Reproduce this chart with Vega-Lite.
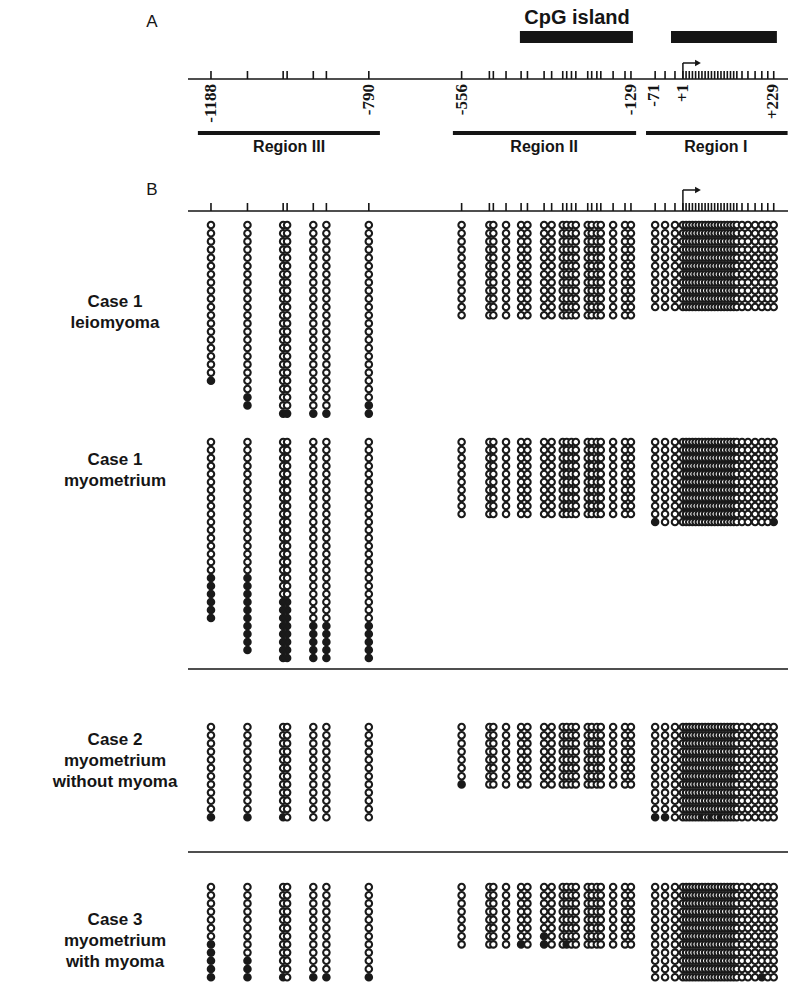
{
"$schema":"https://vega.github.io/schema/vega-lite/v6.json",
"padding":0,
"bounds":"flush",
"spacing":0,
"background":"white",
"config":{"view":{"stroke":null},"axis":{"disable":true},"concat":{"spacing":0}},
"resolve":{"scale":{"x":"independent","y":"independent","fill":"independent"}},
"datasets":{
"cols":[
{"c":"c1l","x":-1188,"m":[0,0,0,0,0,0,0,0,0,0,0,0,0,0,0,0,0,0,0,1]},
{"c":"c1l","x":-1096,"m":[0,0,0,0,0,0,0,0,0,0,0,0,0,0,0,0,0,0,0,0,0,1,1]},
{"c":"c1l","x":-1006,"m":[0,0,0,0,0,0,0,0,0,0,0,0,0,0,0,0,0,0,0,0,0,0,0,1]},
{"c":"c1l","x":-996,"m":[0,0,0,0,0,0,0,0,0,0,0,0,0,0,0,0,0,0,0,0,0,0,0,1]},
{"c":"c1l","x":-930,"m":[0,0,0,0,0,0,0,0,0,0,0,0,0,0,0,0,0,0,0,0,0,0,0,1]},
{"c":"c1l","x":-897,"m":[0,0,0,0,0,0,0,0,0,0,0,0,0,0,0,0,0,0,0,0,0,0,0,1]},
{"c":"c1l","x":-790,"m":[0,0,0,0,0,0,0,0,0,0,0,0,0,0,0,0,0,0,0,0,0,0,1,1]},
{"c":"c1l","x":-556,"m":[0,0,0,0,0,0,0,0,0,0,0,0]},
{"c":"c1l","x":-486,"m":[0,0,0,0,0,0,0,0,0,0,0,0]},
{"c":"c1l","x":-476,"m":[0,0,0,0,0,0,0,0,0,0,0,0]},
{"c":"c1l","x":-444,"m":[0,0,0,0,0,0,0,0,0,0,0,0]},
{"c":"c1l","x":-406,"m":[0,0,0,0,0,0,0,0,0,0,0,0]},
{"c":"c1l","x":-390,"m":[0,0,0,0,0,0,0,0,0,0,0,0]},
{"c":"c1l","x":-348,"m":[0,0,0,0,0,0,0,0,0,0,0,0]},
{"c":"c1l","x":-329,"m":[0,0,0,0,0,0,0,0,0,0,0,0]},
{"c":"c1l","x":-301,"m":[0,0,0,0,0,0,0,0,0,0,0,0]},
{"c":"c1l","x":-291,"m":[0,0,0,0,0,0,0,0,0,0,0,0]},
{"c":"c1l","x":-279,"m":[0,0,0,0,0,0,0,0,0,0,0,0]},
{"c":"c1l","x":-268,"m":[0,0,0,0,0,0,0,0,0,0,0,0]},
{"c":"c1l","x":-238,"m":[0,0,0,0,0,0,0,0,0,0,0,0]},
{"c":"c1l","x":-228,"m":[0,0,0,0,0,0,0,0,0,0,0,0]},
{"c":"c1l","x":-215,"m":[0,0,0,0,0,0,0,0,0,0,0,0]},
{"c":"c1l","x":-205,"m":[0,0,0,0,0,0,0,0,0,0,0,0]},
{"c":"c1l","x":-174,"m":[0,0,0,0,0,0,0,0,0,0,0,0]},
{"c":"c1l","x":-144,"m":[0,0,0,0,0,0,0,0,0,0,0,0]},
{"c":"c1l","x":-129,"m":[0,0,0,0,0,0,0,0,0,0,0,0]},
{"c":"c1l","x":-68,"m":[0,0,0,0,0,0,0,0,0,0,0]},
{"c":"c1l","x":-43,"m":[0,0,0,0,0,0,0,0,0,0,0]},
{"c":"c1l","x":-18,"m":[0,0,0,0,0,0,0,0,0,0,0]},
{"c":"c1l","x":2,"m":[0,0,0,0,0,0,0,0,0,0,0]},
{"c":"c1l","x":10,"m":[0,0,0,0,0,0,0,0,0,0,0]},
{"c":"c1l","x":18,"m":[0,0,0,0,0,0,0,0,0,0,0]},
{"c":"c1l","x":26,"m":[0,0,0,0,0,0,0,0,0,0,0]},
{"c":"c1l","x":34,"m":[0,0,0,0,0,0,0,0,0,0,0]},
{"c":"c1l","x":42,"m":[0,0,0,0,0,0,0,0,0,0,0]},
{"c":"c1l","x":50,"m":[0,0,0,0,0,0,0,0,0,0,0]},
{"c":"c1l","x":58,"m":[0,0,0,0,0,0,0,0,0,0,0]},
{"c":"c1l","x":66,"m":[0,0,0,0,0,0,0,0,0,0,0]},
{"c":"c1l","x":74,"m":[0,0,0,0,0,0,0,0,0,0,0]},
{"c":"c1l","x":82,"m":[0,0,0,0,0,0,0,0,0,0,0]},
{"c":"c1l","x":90,"m":[0,0,0,0,0,0,0,0,0,0,0]},
{"c":"c1l","x":98,"m":[0,0,0,0,0,0,0,0,0,0,0]},
{"c":"c1l","x":106,"m":[0,0,0,0,0,0,0,0,0,0,0]},
{"c":"c1l","x":114,"m":[0,0,0,0,0,0,0,0,0,0,0]},
{"c":"c1l","x":122,"m":[0,0,0,0,0,0,0,0,0,0,0]},
{"c":"c1l","x":130,"m":[0,0,0,0,0,0,0,0,0,0,0]},
{"c":"c1l","x":138,"m":[0,0,0,0,0,0,0,0,0,0,0]},
{"c":"c1l","x":151,"m":[0,0,0,0,0,0,0,0,0,0,0]},
{"c":"c1l","x":166,"m":[0,0,0,0,0,0,0,0,0,0,0]},
{"c":"c1l","x":184,"m":[0,0,0,0,0,0,0,0,0,0,0]},
{"c":"c1l","x":201,"m":[0,0,0,0,0,0,0,0,0,0,0]},
{"c":"c1l","x":216,"m":[0,0,0,0,0,0,0,0,0,0,0]},
{"c":"c1l","x":231,"m":[0,0,0,0,0,0,0,0,0,0,0]},

{"c":"c1m","x":-1188,"m":[0,0,0,0,0,0,0,0,0,0,0,0,0,0,0,0,0,1,1,1,1,1,1]},
{"c":"c1m","x":-1096,"m":[0,0,0,0,0,0,0,0,0,0,0,0,0,0,0,0,0,1,1,1,1,1,1,1,1,1,1]},
{"c":"c1m","x":-1006,"m":[0,0,0,0,0,0,0,0,0,0,0,0,0,0,0,0,0,0,0,0,1,1,1,1,1,1,1,1]},
{"c":"c1m","x":-996,"m":[0,0,0,0,0,0,0,0,0,0,0,0,0,0,0,0,0,0,0,0,1,1,1,1,1,1,1,1]},
{"c":"c1m","x":-930,"m":[0,0,0,0,0,0,0,0,0,0,0,0,0,0,0,0,0,0,0,0,0,0,0,1,1,1,1,1]},
{"c":"c1m","x":-897,"m":[0,0,0,0,0,0,0,0,0,0,0,0,0,0,0,0,0,0,0,0,0,0,0,1,1,1,1,1]},
{"c":"c1m","x":-790,"m":[0,0,0,0,0,0,0,0,0,0,0,0,0,0,0,0,0,0,0,0,0,0,0,1,1,1,1,1]},
{"c":"c1m","x":-556,"m":[0,0,0,0,0,0,0,0,0,0]},
{"c":"c1m","x":-486,"m":[0,0,0,0,0,0,0,0,0,0]},
{"c":"c1m","x":-476,"m":[0,0,0,0,0,0,0,0,0,0]},
{"c":"c1m","x":-444,"m":[0,0,0,0,0,0,0,0,0,0]},
{"c":"c1m","x":-406,"m":[0,0,0,0,0,0,0,0,0,0]},
{"c":"c1m","x":-390,"m":[0,0,0,0,0,0,0,0,0,0]},
{"c":"c1m","x":-348,"m":[0,0,0,0,0,0,0,0,0,0]},
{"c":"c1m","x":-329,"m":[0,0,0,0,0,0,0,0,0,0]},
{"c":"c1m","x":-301,"m":[0,0,0,0,0,0,0,0,0,0]},
{"c":"c1m","x":-291,"m":[0,0,0,0,0,0,0,0,0,0]},
{"c":"c1m","x":-279,"m":[0,0,0,0,0,0,0,0,0,0]},
{"c":"c1m","x":-268,"m":[0,0,0,0,0,0,0,0,0,0]},
{"c":"c1m","x":-238,"m":[0,0,0,0,0,0,0,0,0,0]},
{"c":"c1m","x":-228,"m":[0,0,0,0,0,0,0,0,0,0]},
{"c":"c1m","x":-215,"m":[0,0,0,0,0,0,0,0,0,0]},
{"c":"c1m","x":-205,"m":[0,0,0,0,0,0,0,0,0,0]},
{"c":"c1m","x":-174,"m":[0,0,0,0,0,0,0,0,0,0]},
{"c":"c1m","x":-144,"m":[0,0,0,0,0,0,0,0,0,0]},
{"c":"c1m","x":-129,"m":[0,0,0,0,0,0,0,0,0,0]},
{"c":"c1m","x":-68,"m":[0,0,0,0,0,0,0,0,0,0,1]},
{"c":"c1m","x":-43,"m":[0,0,0,0,0,0,0,0,0,0,0]},
{"c":"c1m","x":-18,"m":[0,0,0,0,0,0,0,0,0,0,0]},
{"c":"c1m","x":2,"m":[0,0,0,0,0,0,0,0,0,0,0]},
{"c":"c1m","x":10,"m":[0,0,0,0,0,0,0,0,0,0,0]},
{"c":"c1m","x":18,"m":[0,0,0,0,0,0,0,0,0,0,0]},
{"c":"c1m","x":26,"m":[0,0,0,0,0,0,0,0,0,0,0]},
{"c":"c1m","x":34,"m":[0,0,0,0,0,0,0,0,0,0,0]},
{"c":"c1m","x":42,"m":[0,0,0,0,0,0,0,0,0,0,0]},
{"c":"c1m","x":50,"m":[0,0,0,0,0,0,0,0,0,0,0]},
{"c":"c1m","x":58,"m":[0,0,0,0,0,0,0,0,0,0,0]},
{"c":"c1m","x":66,"m":[0,0,0,0,0,0,0,0,0,0,0]},
{"c":"c1m","x":74,"m":[0,0,0,0,0,0,0,0,0,0,0]},
{"c":"c1m","x":82,"m":[0,0,0,0,0,0,0,0,0,0,0]},
{"c":"c1m","x":90,"m":[0,0,0,0,0,0,0,0,0,0,0]},
{"c":"c1m","x":98,"m":[0,0,0,0,0,0,0,0,0,0,0]},
{"c":"c1m","x":106,"m":[0,0,0,0,0,0,0,0,0,0,0]},
{"c":"c1m","x":114,"m":[0,0,0,0,0,0,0,0,0,0,0]},
{"c":"c1m","x":122,"m":[0,0,0,0,0,0,0,0,0,0,0]},
{"c":"c1m","x":130,"m":[0,0,0,0,0,0,0,0,0,0,0]},
{"c":"c1m","x":138,"m":[0,0,0,0,0,0,0,0,0,0,0]},
{"c":"c1m","x":151,"m":[0,0,0,0,0,0,0,0,0,0,0]},
{"c":"c1m","x":166,"m":[0,0,0,0,0,0,0,0,0,0,0]},
{"c":"c1m","x":184,"m":[0,0,0,0,0,0,0,0,0,0,0]},
{"c":"c1m","x":201,"m":[0,0,0,0,0,0,0,0,0,0,0]},
{"c":"c1m","x":216,"m":[0,0,0,0,0,0,0,0,0,0,0]},
{"c":"c1m","x":231,"m":[0,0,0,0,0,0,0,0,0,0,1]},

{"c":"c2","x":-1188,"m":[0,0,0,0,0,0,0,0,0,0,0,1]},
{"c":"c2","x":-1096,"m":[0,0,0,0,0,0,0,0,0,0,0,1]},
{"c":"c2","x":-1006,"m":[0,0,0,0,0,0,0,0,0,0,0,1]},
{"c":"c2","x":-996,"m":[0,0,0,0,0,0,0,0,0,0,0,0]},
{"c":"c2","x":-930,"m":[0,0,0,0,0,0,0,0,0,0,0,0]},
{"c":"c2","x":-897,"m":[0,0,0,0,0,0,0,0,0,0,0,0]},
{"c":"c2","x":-790,"m":[0,0,0,0,0,0,0,0,0,0,0,0]},
{"c":"c2","x":-556,"m":[0,0,0,0,0,0,0,1]},
{"c":"c2","x":-486,"m":[0,0,0,0,0,0,0,0]},
{"c":"c2","x":-476,"m":[0,0,0,0,0,0,0,0]},
{"c":"c2","x":-444,"m":[0,0,0,0,0,0,0,0]},
{"c":"c2","x":-406,"m":[0,0,0,0,0,0,0,0]},
{"c":"c2","x":-390,"m":[0,0,0,0,0,0,0,0]},
{"c":"c2","x":-348,"m":[0,0,0,0,0,0,0,0]},
{"c":"c2","x":-329,"m":[0,0,0,0,0,0,0,0]},
{"c":"c2","x":-301,"m":[0,0,0,0,0,0,0,0]},
{"c":"c2","x":-291,"m":[0,0,0,0,0,0,0,0]},
{"c":"c2","x":-279,"m":[0,0,0,0,0,0,0,0]},
{"c":"c2","x":-268,"m":[0,0,0,0,0,0,0,0]},
{"c":"c2","x":-238,"m":[0,0,0,0,0,0,0,0]},
{"c":"c2","x":-228,"m":[0,0,0,0,0,0,0,0]},
{"c":"c2","x":-215,"m":[0,0,0,0,0,0,0,0]},
{"c":"c2","x":-205,"m":[0,0,0,0,0,0,0,0]},
{"c":"c2","x":-174,"m":[0,0,0,0,0,0,0,0]},
{"c":"c2","x":-144,"m":[0,0,0,0,0,0,0,0]},
{"c":"c2","x":-129,"m":[0,0,0,0,0,0,0,0]},
{"c":"c2","x":-68,"m":[0,0,0,0,0,0,0,0,0,0,0,1]},
{"c":"c2","x":-43,"m":[0,0,0,0,0,0,0,0,0,0,0,1]},
{"c":"c2","x":-18,"m":[0,0,0,0,0,0,0,0,0,0,0,0]},
{"c":"c2","x":2,"m":[0,0,0,0,0,0,0,0,0,0,0,0]},
{"c":"c2","x":10,"m":[0,0,0,0,0,0,0,0,0,0,0,0]},
{"c":"c2","x":18,"m":[0,0,0,0,0,0,0,0,0,0,0,0]},
{"c":"c2","x":26,"m":[0,0,0,0,0,0,0,0,0,0,0,0]},
{"c":"c2","x":34,"m":[0,0,0,0,0,0,0,0,0,0,0,0]},
{"c":"c2","x":42,"m":[0,0,0,0,0,0,0,0,0,0,0,0]},
{"c":"c2","x":50,"m":[0,0,0,0,0,0,0,0,0,0,0,1]},
{"c":"c2","x":58,"m":[0,0,0,0,0,0,0,0,0,0,0,0]},
{"c":"c2","x":66,"m":[0,0,0,0,0,0,0,0,0,0,0,0]},
{"c":"c2","x":74,"m":[0,0,0,0,0,0,0,0,0,0,0,1]},
{"c":"c2","x":82,"m":[0,0,0,0,0,0,0,0,0,0,0,0]},
{"c":"c2","x":90,"m":[0,0,0,0,0,0,0,0,0,0,0,0]},
{"c":"c2","x":98,"m":[0,0,0,0,0,0,0,0,0,0,0,1]},
{"c":"c2","x":106,"m":[0,0,0,0,0,0,0,0,0,0,0,0]},
{"c":"c2","x":114,"m":[0,0,0,0,0,0,0,0,0,0,0,0]},
{"c":"c2","x":122,"m":[0,0,0,0,0,0,0,0,0,0,0,0]},
{"c":"c2","x":130,"m":[0,0,0,0,0,0,0,0,0,0,0,0]},
{"c":"c2","x":138,"m":[0,0,0,0,0,0,0,0,0,0,0,0]},
{"c":"c2","x":151,"m":[0,0,0,0,0,0,0,0,0,0,0,0]},
{"c":"c2","x":166,"m":[0,0,0,0,0,0,0,0,0,0,0,0]},
{"c":"c2","x":184,"m":[0,0,0,0,0,0,0,0,0,0,0,0]},
{"c":"c2","x":201,"m":[0,0,0,0,0,0,0,0,0,0,0,0]},
{"c":"c2","x":216,"m":[0,0,0,0,0,0,0,0,0,0,0,0]},
{"c":"c2","x":231,"m":[0,0,0,0,0,0,0,0,0,0,0,0]},

{"c":"c3","x":-1188,"m":[0,0,0,0,0,0,0,1,1,1,1,1]},
{"c":"c3","x":-1096,"m":[0,0,0,0,0,0,0,0,0,1,1,1]},
{"c":"c3","x":-1006,"m":[0,0,0,0,0,0,0,0,0,0,0,1]},
{"c":"c3","x":-996,"m":[0,0,0,0,0,0,0,0,0,0,0,0]},
{"c":"c3","x":-930,"m":[0,0,0,0,0,0,0,0,0,0,0,1]},
{"c":"c3","x":-897,"m":[0,0,0,0,0,0,0,0,0,0,0,1]},
{"c":"c3","x":-790,"m":[0,0,0,0,0,0,0,0,0,0,0,1]},
{"c":"c3","x":-556,"m":[0,0,0,0,0,0,0,0]},
{"c":"c3","x":-486,"m":[0,0,0,0,0,0,0,0]},
{"c":"c3","x":-476,"m":[0,0,0,0,0,0,0,0]},
{"c":"c3","x":-444,"m":[0,0,0,0,0,0,0,0]},
{"c":"c3","x":-406,"m":[0,0,0,0,0,0,0,1]},
{"c":"c3","x":-390,"m":[0,0,0,0,0,0,0,0]},
{"c":"c3","x":-348,"m":[0,0,0,0,0,0,1,1]},
{"c":"c3","x":-329,"m":[0,0,0,0,0,0,0,0]},
{"c":"c3","x":-301,"m":[0,0,0,0,0,0,0,0]},
{"c":"c3","x":-291,"m":[0,0,0,0,0,0,0,1]},
{"c":"c3","x":-279,"m":[0,0,0,0,0,0,0,0]},
{"c":"c3","x":-268,"m":[0,0,0,0,0,0,0,0]},
{"c":"c3","x":-238,"m":[0,0,0,0,0,0,0,0]},
{"c":"c3","x":-228,"m":[0,0,0,0,0,0,0,0]},
{"c":"c3","x":-215,"m":[0,0,0,0,0,0,0,0]},
{"c":"c3","x":-205,"m":[0,0,0,0,0,0,0,0]},
{"c":"c3","x":-174,"m":[0,0,0,0,0,0,0,0]},
{"c":"c3","x":-144,"m":[0,0,0,0,0,0,0,0]},
{"c":"c3","x":-129,"m":[0,0,0,0,0,0,0,0]},
{"c":"c3","x":-68,"m":[0,0,0,0,0,0,0,0,0,0,0,0]},
{"c":"c3","x":-43,"m":[0,0,0,0,0,0,0,0,0,0,0,0]},
{"c":"c3","x":-18,"m":[0,0,0,0,0,0,0,0,0,0,0,0]},
{"c":"c3","x":2,"m":[0,0,0,0,0,0,0,0,0,0,0,0]},
{"c":"c3","x":10,"m":[0,0,0,0,0,0,0,0,0,0,0,0]},
{"c":"c3","x":18,"m":[0,0,0,0,0,0,0,0,0,0,0,0]},
{"c":"c3","x":26,"m":[0,0,0,0,0,0,0,0,0,0,0,0]},
{"c":"c3","x":34,"m":[0,0,0,0,0,0,0,0,0,0,0,0]},
{"c":"c3","x":42,"m":[0,0,0,0,0,0,0,0,0,0,0,0]},
{"c":"c3","x":50,"m":[0,0,0,0,0,0,0,0,0,0,0,0]},
{"c":"c3","x":58,"m":[0,0,0,0,0,0,0,0,0,0,0,0]},
{"c":"c3","x":66,"m":[0,0,0,0,0,0,0,0,0,0,0,0]},
{"c":"c3","x":74,"m":[0,0,0,0,0,0,0,0,0,0,0,0]},
{"c":"c3","x":82,"m":[0,0,0,0,0,0,0,0,0,0,0,0]},
{"c":"c3","x":90,"m":[0,0,0,0,0,0,0,0,0,0,0,0]},
{"c":"c3","x":98,"m":[0,0,0,0,0,0,0,0,0,0,0,0]},
{"c":"c3","x":106,"m":[0,0,0,0,0,0,0,0,0,0,0,0]},
{"c":"c3","x":114,"m":[0,0,0,0,0,0,0,0,0,0,0,0]},
{"c":"c3","x":122,"m":[0,0,0,0,0,0,0,0,0,0,0,0]},
{"c":"c3","x":130,"m":[0,0,0,0,0,0,0,0,0,0,0,0]},
{"c":"c3","x":138,"m":[0,0,0,0,0,0,0,0,0,0,0,0]},
{"c":"c3","x":151,"m":[0,0,0,0,0,0,0,0,0,0,0,0]},
{"c":"c3","x":166,"m":[0,0,0,0,0,0,0,0,0,0,0,0]},
{"c":"c3","x":184,"m":[0,0,0,0,0,0,0,0,0,0,0,0]},
{"c":"c3","x":201,"m":[0,0,0,0,0,0,0,0,0,0,0,1]},
{"c":"c3","x":216,"m":[0,0,0,0,0,0,0,0,0,0,0,0]},
{"c":"c3","x":231,"m":[0,0,0,0,0,0,0,0,0,0,0,0]}
]
},
"vconcat":[
{
"width":788,"height":218,
"encoding":{
"x":{"field":"x","type":"quantitative","scale":{"domain":[-1720,267],"nice":false,"zero":false},"axis":null}
},
"layer":[
{"data":{"values":[{"x":-409,"x2":-124,"y":31,"y2":43},{"x":-28,"x2":239,"y":31,"y2":43}]},
 "mark":{"type":"rect","color":"#151515"},
 "encoding":{"x2":{"field":"x2"},"y":{"field":"y","type":"quantitative","scale":{"domain":[0,218],"reverse":true,"nice":false,"zero":false},"axis":null},"y2":{"field":"y2"}}},
{"data":{"values":[{"x":-1246,"x2":267,"y":79,"y2":79},{"x":-1246,"x2":267,"y":211,"y2":211},{"x":2,"x2":2,"y":79,"y2":63},{"x":2,"x2":34,"y":63,"y2":63},{"x":2,"x2":2,"y":211,"y2":190},{"x":2,"x2":34,"y":190,"y2":190}]},
 "mark":{"type":"rule","strokeWidth":1.5,"color":"#151515"},
 "encoding":{"x2":{"field":"x2"},"y":{"field":"y","type":"quantitative","scale":{"domain":[0,218],"reverse":true,"nice":false,"zero":false},"axis":null},"y2":{"field":"y2"}}},
{"data":{"values":[{"x":-1221,"x2":-762,"y":133},{"x":-578,"x2":-116,"y":133},{"x":-91,"x2":266,"y":133}]},
 "mark":{"type":"rule","strokeWidth":4,"color":"#151515"},
 "encoding":{"x2":{"field":"x2"},"y":{"field":"y","type":"quantitative","scale":{"domain":[0,218],"reverse":true,"nice":false,"zero":false},"axis":null}}},
{"data":{"name":"cols"},"transform":[{"filter":"datum.c=='c2'"}],
 "mark":{"type":"rule","strokeWidth":1.6,"color":"#151515"},
 "encoding":{"y":{"datum":71,"type":"quantitative","scale":{"domain":[0,218],"reverse":true,"nice":false,"zero":false},"axis":null},"y2":{"datum":79}}},
{"data":{"name":"cols"},"transform":[{"filter":"datum.c=='c2'"}],
 "mark":{"type":"rule","strokeWidth":1.6,"color":"#151515"},
 "encoding":{"y":{"datum":203,"type":"quantitative","scale":{"domain":[0,218],"reverse":true,"nice":false,"zero":false},"axis":null},"y2":{"datum":211}}},
{"data":{"values":[{"x":40,"y":63},{"x":40,"y":190}]},
 "mark":{"type":"point","shape":"triangle-right","filled":true,"size":45,"color":"#151515","opacity":1},
 "encoding":{"y":{"field":"y","type":"quantitative","scale":{"domain":[0,218],"reverse":true,"nice":false,"zero":false},"axis":null}}},
{"data":{"values":[{"x":-1337,"y":22,"t":"A"},{"x":-1337,"y":190,"t":"B"}]},
 "mark":{"type":"text","font":"Liberation Sans","fontSize":17,"color":"#151515","align":"center","baseline":"middle"},
 "encoding":{"text":{"field":"t"},"y":{"field":"y","type":"quantitative","scale":{"domain":[0,218],"reverse":true,"nice":false,"zero":false},"axis":null}}},
{"data":{"values":[{"x":-265,"y":18,"t":"CpG island"}]},
 "mark":{"type":"text","font":"Liberation Sans","fontSize":20,"fontWeight":"bold","color":"#151515","align":"center","baseline":"middle"},
 "encoding":{"text":{"field":"t"},"y":{"field":"y","type":"quantitative","scale":{"domain":[0,218],"reverse":true,"nice":false,"zero":false},"axis":null}}},
{"data":{"values":[{"x":-991,"y":147,"t":"Region III"},{"x":-348,"y":147,"t":"Region II"},{"x":85,"y":147,"t":"Region I"}]},
 "mark":{"type":"text","font":"Liberation Sans","fontSize":16,"fontWeight":"bold","color":"#151515","align":"center","baseline":"middle"},
 "encoding":{"text":{"field":"t"},"y":{"field":"y","type":"quantitative","scale":{"domain":[0,218],"reverse":true,"nice":false,"zero":false},"axis":null}}},
{"data":{"values":[{"x":-1188,"y":84,"t":"-1188"},{"x":-790,"y":84,"t":"-790"},{"x":-556,"y":84,"t":"-556"},{"x":-129,"y":84,"t":"-129"},{"x":-71,"y":84,"t":"-71"},{"x":1,"y":84,"t":"+1"},{"x":229,"y":84,"t":"+229"}]},
 "mark":{"type":"text","font":"Liberation Serif","fontSize":17,"fontWeight":"bold","color":"#151515","angle":270,"align":"right","baseline":"middle"},
 "encoding":{"text":{"field":"t"},"y":{"field":"y","type":"quantitative","scale":{"domain":[0,218],"reverse":true,"nice":false,"zero":false},"axis":null}}}
]
},
{
"width":788,"height":212,
"encoding":{
"x":{"field":"x","type":"quantitative","scale":{"domain":[-1720,267],"nice":false,"zero":false},"axis":null},
"y":{"field":"y","type":"quantitative","scale":{"domain":[0.146,26.0],"reverse":true,"nice":false,"zero":false},"axis":null}
},
"layer":[
{"data":{"name":"cols"},"transform":[{"filter":"datum.c=='c1l'"},{"flatten":["m"]},{"window":[{"op":"row_number","as":"y"}],"groupby":["x"]}],
 "mark":{"type":"point","shape":"circle","filled":true,"size":42,"strokeWidth":2.1,"stroke":"#1a1a1a","opacity":1},
 "encoding":{"fill":{"field":"m","type":"nominal","scale":{"domain":[0,1],"range":["#ffffff","#1a1a1a"]},"legend":null}}},
{"data":{"values":[{"x":-1430,"y":10.39,"t":"Case 1\nleiomyoma"}]},
 "mark":{"type":"text","font":"Liberation Sans","fontSize":17,"fontWeight":"bold","color":"#151515","align":"center","baseline":"middle","lineBreak":"\n","lineHeight":21},
 "encoding":{"text":{"field":"t"}}}
]
},
{
"width":788,"height":242,
"encoding":{
"x":{"field":"x","type":"quantitative","scale":{"domain":[-1720,267],"nice":false,"zero":false},"axis":null},
"y":{"field":"y","type":"quantitative","scale":{"domain":[-0.5,29.75],"reverse":true,"nice":false,"zero":false},"axis":null}
},
"layer":[
{"data":{"name":"cols"},"transform":[{"filter":"datum.c=='c1m'"},{"flatten":["m"]},{"window":[{"op":"row_number","as":"y"}],"groupby":["x"]}],
 "mark":{"type":"point","shape":"circle","filled":true,"size":42,"strokeWidth":2.1,"stroke":"#1a1a1a","opacity":1},
 "encoding":{"fill":{"field":"m","type":"nominal","scale":{"domain":[0,1],"range":["#ffffff","#1a1a1a"]},"legend":null}}},
{"data":{"values":[{"x":-1430,"y":3.25,"t":"Case 1\nmyometrium"}]},
 "mark":{"type":"text","font":"Liberation Sans","fontSize":17,"fontWeight":"bold","color":"#151515","align":"center","baseline":"middle","lineBreak":"\n","lineHeight":21},
 "encoding":{"text":{"field":"t"}}},
{"data":{"values":[{"x":-1246,"x2":267,"y":29.375}]},
 "mark":{"type":"rule","strokeWidth":1.5,"color":"#151515"},
 "encoding":{"x2":{"field":"x2"}}}
]
},
{
"width":788,"height":183,
"encoding":{
"x":{"field":"x","type":"quantitative","scale":{"domain":[-1720,267],"nice":false,"zero":false},"axis":null},
"y":{"field":"y","type":"quantitative","scale":{"domain":[-5.707,16.61],"reverse":true,"nice":false,"zero":false},"axis":null}
},
"layer":[
{"data":{"name":"cols"},"transform":[{"filter":"datum.c=='c2'"},{"flatten":["m"]},{"window":[{"op":"row_number","as":"y"}],"groupby":["x"]}],
 "mark":{"type":"point","shape":"circle","filled":true,"size":42,"strokeWidth":2.1,"stroke":"#1a1a1a","opacity":1},
 "encoding":{"fill":{"field":"m","type":"nominal","scale":{"domain":[0,1],"range":["#ffffff","#1a1a1a"]},"legend":null}}},
{"data":{"values":[{"x":-1430,"y":2.585,"t":"Case 2\nmyometrium\nwithout myoma"}]},
 "mark":{"type":"text","font":"Liberation Sans","fontSize":17,"fontWeight":"bold","color":"#151515","align":"center","baseline":"middle","lineBreak":"\n","lineHeight":21},
 "encoding":{"text":{"field":"t"}}},
{"data":{"values":[{"x":-1246,"x2":267,"y":16.244}]},
 "mark":{"type":"rule","strokeWidth":1.5,"color":"#151515"},
 "encoding":{"x2":{"field":"x2"}}}
]
},
{
"width":788,"height":130,
"encoding":{
"x":{"field":"x","type":"quantitative","scale":{"domain":[-1720,267],"nice":false,"zero":false},"axis":null},
"y":{"field":"y","type":"quantitative","scale":{"domain":[-2.902,12.952],"reverse":true,"nice":false,"zero":false},"axis":null}
},
"layer":[
{"data":{"name":"cols"},"transform":[{"filter":"datum.c=='c3'"},{"flatten":["m"]},{"window":[{"op":"row_number","as":"y"}],"groupby":["x"]}],
 "mark":{"type":"point","shape":"circle","filled":true,"size":42,"strokeWidth":2.1,"stroke":"#1a1a1a","opacity":1},
 "encoding":{"fill":{"field":"m","type":"nominal","scale":{"domain":[0,1],"range":["#ffffff","#1a1a1a"]},"legend":null}}},
{"data":{"values":[{"x":-1430,"y":5.025,"t":"Case 3\nmyometrium\nwith myoma"}]},
 "mark":{"type":"text","font":"Liberation Sans","fontSize":17,"fontWeight":"bold","color":"#151515","align":"center","baseline":"middle","lineBreak":"\n","lineHeight":21},
 "encoding":{"text":{"field":"t"}}}
]
}
]
}
